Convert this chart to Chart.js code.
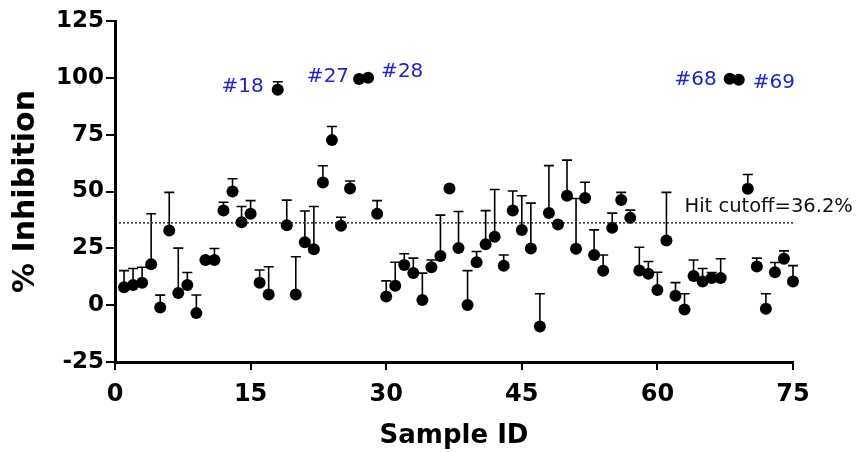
<!DOCTYPE html>
<html>
<head>
<meta charset="utf-8">
<script src="https://cdn.jsdelivr.net/npm/chart.js@4"></script>
<style>
  html, body { margin: 0; padding: 0; background: #fff; }
  #wrap { width: 858px; height: 452px; }
</style>
</head>
<body>
<div id="wrap"><canvas id="inhibitionChart" width="858" height="452"></canvas></div>
<script>
// Sample IDs 1..75
const sampleIds = Array.from({ length: 75 }, (_, i) => i + 1);

// mean % inhibition per sample
const inhibition = [
    7.9, 8.9, 9.9, 18.0, -1.0, 32.8, 5.4, 8.9, -3.5, 19.9,
    19.9, 41.6, 50.0, 36.5, 40.2, 9.9, 4.7, 94.8, 35.2, 4.7,
    27.7, 24.6, 54.0, 72.6, 34.9, 51.3, 99.5, 100.0, 40.2, 3.8,
    8.5, 17.7, 14.1, 2.3, 16.7, 21.6, 51.3, 25.1, 0.1, 18.9,
    26.8, 30.1, 17.3, 41.6, 33.1, 24.9, -9.4, 40.5, 35.5, 48.1,
    24.8, 47.1, 22.1, 15.1, 34.0, 46.3, 38.4, 15.2, 13.8, 6.7,
    28.4, 4.1, -1.9, 12.8, 10.4, 11.9, 11.9, 99.6, 99.2, 51.2,
    17.0, -1.6, 14.5, 20.4, 10.4
];

// SD (upper bar only), null = not shown
const inhibitionSd = [
    7.3, 7.2, 6.8, 22.2, 5.4, 16.8, 19.7, 5.5, 8.0, null,
    5.0, 3.7, 5.6, 6.9, 5.8, 5.6, 12.2, 3.5, 11.0, 16.6,
    13.7, 18.8, 7.3, 6.0, 3.8, 3.3, null, null, 5.8, 6.9,
    10.4, 4.9, 6.6, 11.8, 3.2, 18.0, null, 16.1, 15.1, 4.7,
    14.8, 20.8, 4.8, 8.6, 15.0, 20.0, 14.4, 20.9, null, 15.7,
    22.1, 7.0, 11.0, 7.0, 6.5, 3.3, 3.4, 10.3, 5.4, 7.8,
    21.2, 5.8, 6.9, 7.1, 5.7, 2.5, 8.5, null, null, 6.3,
    3.7, 6.6, 4.3, 3.5, 7.0
];

const yTicks = [-25, 0, 25, 50, 75, 100, 125];
const xTicks = [0, 15, 30, 45, 60, 75];

const hitCutoff = 36.2;
const hitIds = [18, 27, 28, 68, 69];

const points = sampleIds.map((id, i) => ({ x: id, y: inhibition[i] }));

const boldFont = (size) => ({ family: "'DejaVu Sans', sans-serif", size: size, weight: 'bold' });

// upward error bars, drawn under the markers
const errorBars = {
    id: 'errorBars',
    beforeDatasetsDraw(chart) {
        const { ctx, scales: { x, y } } = chart;
        ctx.save();
        ctx.strokeStyle = '#000';
        ctx.lineWidth = 1.6;
        sampleIds.forEach((id, i) => {
            const sd = inhibitionSd[i];
            if (sd === null) return;
            const px = x.getPixelForValue(id);
            const py = y.getPixelForValue(inhibition[i]);
            const top = y.getPixelForValue(inhibition[i] + sd);
            ctx.beginPath();
            ctx.moveTo(px, py);
            ctx.lineTo(px, top);
            ctx.moveTo(px - 5, top);
            ctx.lineTo(px + 5, top);
            ctx.stroke();
        });
        ctx.restore();
    }
};

// dotted cutoff line + hit labels
const cutoffAndHits = {
    id: 'cutoffAndHits',
    beforeDatasetsDraw(chart) {
        const { ctx, scales: { x, y } } = chart;
        const cy = y.getPixelForValue(hitCutoff);
        ctx.save();
        ctx.strokeStyle = '#000';
        ctx.lineWidth = 1.3;
        ctx.setLineDash([2, 2]);
        ctx.beginPath();
        ctx.moveTo(x.getPixelForValue(0), cy);
        ctx.lineTo(x.getPixelForValue(75), cy);
        ctx.stroke();
        ctx.setLineDash([]);

        ctx.fillStyle = '#111';
        ctx.font = "19.5px 'DejaVu Sans', sans-serif";
        ctx.textAlign = 'left';
        ctx.textBaseline = 'middle';
        ctx.fillText('Hit cutoff=36.2%', x.getPixelForValue(63), cy - 16);
        ctx.restore();
    },
    afterDatasetsDraw(chart) {
        const { ctx, scales: { x, y } } = chart;
        // [side, dx, dy] for each hit label
        const place = { 18: ['right', -14, -3], 27: ['right', -10, -2], 28: ['left', 13, -6], 68: ['right', -13, 1], 69: ['left', 14, 3] };
        ctx.save();
        ctx.fillStyle = '#2323c4';
        ctx.font = "20px 'DejaVu Sans', sans-serif";
        ctx.textBaseline = 'middle';
        hitIds.forEach(id => {
            const [side, dx, dy] = place[id];
            ctx.textAlign = side;
            ctx.fillText('#' + id, x.getPixelForValue(id) + dx, y.getPixelForValue(inhibition[id - 1]) + dy);
        });
        ctx.restore();
    }
};

new Chart(document.getElementById('inhibitionChart').getContext('2d'), {
    type: 'scatter',
    data: {
        datasets: [{
            label: '% Inhibition',
            data: points,
            pointRadius: 6,
            pointHoverRadius: 6,
            backgroundColor: '#000',
            borderWidth: 0,
            clip: false
        }]
    },
    options: {
        responsive: false,
        animation: false,
        events: [],
        layout: { padding: { top: 21, right: 65, left: 0, bottom: 0 } },
        plugins: {
            legend: { display: false },
            tooltip: { enabled: false }
        },
        scales: {
            x: {
                type: 'linear',
                min: 0,
                max: 75,
                afterBuildTicks: s => { s.ticks = xTicks.map(v => ({ value: v })); },
                afterFit: s => { s.height = 90; },
                ticks: { color: '#000', font: boldFont(24), padding: 10, maxRotation: 0 },
                grid: { drawOnChartArea: false, drawTicks: true, tickLength: 8, color: '#000', lineWidth: 2 },
                border: { color: '#000', width: 3 },
                title: { display: true, text: 'Sample ID', color: '#000', font: boldFont(26), padding: { top: 2, bottom: 0 } }
            },
            y: {
                min: -25,
                max: 125,
                afterBuildTicks: s => { s.ticks = yTicks.map(v => ({ value: v })); },
                afterFit: s => { s.width = 115; },
                ticks: { color: '#000', font: boldFont(23), padding: 2 },
                grid: { drawOnChartArea: false, drawTicks: true, tickLength: 9, color: '#000', lineWidth: 2 },
                border: { color: '#000', width: 3 },
                title: { display: true, text: '% Inhibition', color: '#000', font: boldFont(30), padding: { top: 8, bottom: 0 } }
            }
        }
    },
    plugins: [errorBars, cutoffAndHits]
});
</script>
</body>
</html>
